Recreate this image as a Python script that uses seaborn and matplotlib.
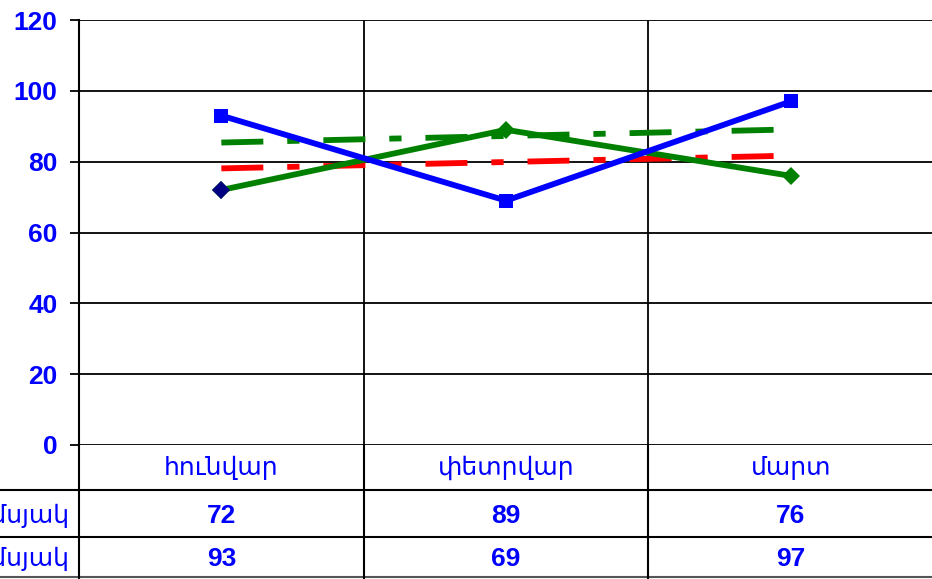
import matplotlib
matplotlib.use("Agg")
import matplotlib.pyplot as plt
import seaborn as sns
import numpy as np

# ---- data ----
categories = ["հունվար", "փետրվար", "մարտ"]
row_labels = ["I եռամսյակ", "II եռամսյակ"]
series_green = [72, 89, 76]
series_blue = [93, 69, 97]
trend_red = [78.1, 81.7]      # trendline end values
trend_green = [85.4, 89.1]
yticks = [0, 20, 40, 60, 80, 100, 120]

sns.set_theme(style="white")
plt.rcParams["font.family"] = ["Liberation Sans", "DejaVu Sans"]

W, H = 932, 579
fig = plt.figure(figsize=(W / 100, H / 100), dpi=100)
fig.patch.set_facecolor("white")

# plot area: x 79..933, y 20..445 (pixels from top)
ax = fig.add_axes([79 / W, (H - 445) / H, 854 / W, 425 / H])
ax.set_facecolor("white")
xpos = list(range(len(categories)))

ax.set_xlim(-0.5, 2.5)
ax.set_ylim(0, 120)
ax.set_yticks(yticks)
ax.set_yticklabels([str(v) for v in yticks])
ax.set_xticks([])
ax.yaxis.grid(True, color="black", lw=1.3, zorder=0)
for xv in [0.5, 1.5]:
    ax.axvline(xv, color="black", lw=1.3, zorder=0)
for s in ["top", "right", "bottom"]:
    ax.spines[s].set_visible(False)
ax.spines["left"].set_color("black")
ax.spines["left"].set_linewidth(1.5)
ax.tick_params(axis="y", direction="out", length=6.5, width=1.3, color="black",
               pad=9, labelsize=19, labelcolor="#0000FF", left=True)
for lbl in ax.get_yticklabels():
    lbl.set_fontweight("bold")

lw = 4.2
# trendlines
dash = (0, (7.2, 4.1, 2.1, 4.1))
ax.plot([xpos[0], xpos[-1]], trend_red, color="#FF0000", lw=lw, ls=dash,
        solid_capstyle="butt", dash_capstyle="butt", zorder=3)
ax.plot([xpos[0], xpos[-1]], trend_green, color="#008000", lw=lw, ls=dash,
        solid_capstyle="butt", dash_capstyle="butt", zorder=3)

# series
sns.lineplot(x=xpos, y=series_green, ax=ax, color="#008000", lw=lw,
             marker="D", markersize=9.5, markeredgewidth=0, zorder=4)
sns.lineplot(x=xpos, y=series_blue, ax=ax, color="#0000FF", lw=lw,
             marker="s", markersize=9.5, markeredgewidth=0, zorder=5)
ax.plot([xpos[0]], [series_green[0]], marker="D", markersize=9.5,
        color="#000080", markeredgewidth=0, ls="none", zorder=6)
ax.set_xlim(-0.5, 2.5)
ax.set_ylim(0, 120)
ax.set_xlabel("")
ax.set_ylabel("")

# ---- data table ----
tax = fig.add_axes([79 / W, 0, 854 / W, (H - 445) / H])
tax.set_xlim(-0.5, 2.5)
tax.set_ylim(H - 445, 0)
tax.axis("off")
ext = -0.5 - 79 / 284.67
for yl in [45, 92]:
    tax.plot([ext, 2.5], [yl, yl], color="black", lw=1.5, clip_on=False)
tax.plot([ext, 2.5], [132, 132], color="#555555", lw=1.5, clip_on=False)
for xv in [-0.5, 0.5, 1.5]:
    tax.plot([xv, xv], [0, H - 445], color="black", lw=1.5, clip_on=False)

for i, c in enumerate(categories):
    tax.text(i, 23, c, ha="center", va="center", fontsize=18,
             color="#0000FF")
for r, (lab, vals) in enumerate(zip(row_labels, [series_green, series_blue])):
    yy = [71, 114][r]
    for i, v in enumerate(vals):
        tax.text(i, yy, str(v), ha="center", va="center", fontsize=19,
                 color="#0000FF", fontweight="bold")
    tax.text(-0.5 - 10 / 284.67, yy, lab, ha="right", va="center",
             fontsize=18, color="#0000FF", clip_on=False)

fig.savefig("out.png", dpi=100, facecolor="white")
